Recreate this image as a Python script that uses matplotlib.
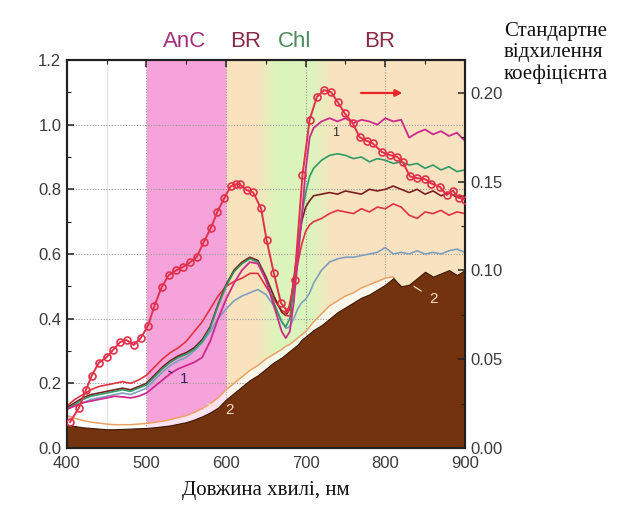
import numpy as np
import matplotlib
matplotlib.use("Agg")
import matplotlib.pyplot as plt
from matplotlib.patches import Polygon
from matplotlib.ticker import MultipleLocator, FormatStrFormatter

# wavelength grid, nm
wl = [400, 410, 420, 430, 440, 450, 460, 470, 480, 490, 500, 510, 520, 530, 540,
      550, 560, 570, 580, 590, 600, 610, 620, 630, 640, 650, 660, 670, 675, 680,
      685, 690, 695, 700, 705, 710, 720, 730, 740, 750, 760, 770, 780, 790, 800,
      810, 820, 830, 840, 850, 860, 870, 880, 890, 900]

# reflectance curves (left axis)
refl_magenta = [.12, .13, .14, .145, .15, .155, .16, .158, .155, .16, .17, .19, .21, .23, .245,
                .255, .265, .28, .33, .40, .46, .51, .55, .575, .57, .52, .44, .36, .34, .36,
                .45, .58, .71, .86, .96, .99, 1.01, 1.02, 1.01, 1.02, 1.005, 1.015, 1.01, 1.0, 1.02,
                1.01, 1.015, .96, .975, .985, .97, .98, .965, .975, .95]
refl_green = [.12, .135, .15, .16, .165, .17, .175, .18, .175, .185, .195, .22, .245, .265, .28,
              .29, .305, .33, .37, .44, .50, .545, .57, .585, .575, .52, .45, .39, .375, .40,
              .49, .61, .72, .79, .84, .865, .89, .905, .91, .905, .895, .90, .885, .895, .89,
              .88, .885, .875, .88, .865, .875, .86, .87, .855, .86]
refl_maroon = [.125, .14, .155, .165, .17, .175, .18, .185, .18, .19, .20, .225, .25, .27, .285,
               .295, .31, .335, .375, .445, .505, .55, .575, .59, .58, .53, .47, .42, .41, .43,
               .52, .62, .70, .745, .765, .78, .785, .79, .785, .795, .79, .785, .80, .795, .80,
               .81, .80, .79, .80, .785, .795, .78, .79, .775, .78]
refl_red = [.13, .15, .165, .18, .19, .195, .20, .205, .20, .21, .225, .25, .275, .295, .31,
            .33, .36, .39, .43, .47, .50, .515, .525, .54, .54, .50, .46, .425, .42, .44,
            .50, .57, .63, .67, .69, .70, .71, .725, .735, .73, .725, .74, .73, .745, .74,
            .755, .745, .72, .71, .73, .725, .735, .72, .73, .725]
refl_blue = [.12, .13, .14, .15, .155, .16, .165, .17, .165, .175, .185, .21, .235, .255, .27,
             .28, .30, .325, .36, .40, .43, .455, .47, .48, .49, .475, .44, .39, .37, .375,
             .40, .43, .45, .46, .48, .51, .55, .575, .585, .59, .59, .595, .60, .605, .62,
             .60, .605, .60, .61, .60, .605, .60, .61, .615, .605]
refl_orange = [.10, .092, .085, .08, .077, .074, .072, .072, .072, .074, .076, .079, .083, .088, .094,
               .10, .11, .122, .137, .155, .18, .20, .22, .24, .255, .275, .29, .305, .315, .32,
               .33, .34, .35, .36, .375, .39, .415, .44, .455, .47, .48, .495, .505, .515, .525,
               .53, .49, .49, .51, .53, .515, .525, .535, .52, .535]
refl_soil = [.07, .068, .064, .062, .06, .058, .058, .059, .06, .061, .062, .064, .067, .07, .075,
             .08, .088, .098, .11, .125, .15, .17, .19, .21, .225, .245, .265, .28, .29, .30,
             .31, .32, .335, .345, .355, .365, .38, .40, .42, .435, .45, .465, .475, .49, .505,
             .525, .50, .505, .525, .545, .53, .54, .55, .535, .55]

# standard deviation of the coefficient (right axis)
sd_wl = [404, 415, 424, 431, 440, 450, 458, 467, 475, 484, 493, 502, 510, 519, 528, 537,
         546, 555, 563, 572, 581, 589, 598, 606, 612, 617, 626, 634, 644, 651, 660, 669,
         678, 686, 696, 705, 714, 723, 732, 740, 749, 759, 768, 777, 784, 796, 806, 815,
         822, 831, 840, 850, 858, 869, 877, 885, 892, 900]
sd = [.0146, .0225, .0327, .0405, .0479, .0512, .0552, .0597, .0608, .058, .062, .069, .080,
      .0906, .0974, .100, .102, .1047, .1075, .116, .124, .133, .141, .1475, .1486, .1486,
      .1453, .144, .135, .117, .0985, .0816, .0766, .0946, .1537, .185, .1977, .2016, .2005,
      .195, .1886, .183, .175, .173, .1717, .1667, .165, .164, .161, .153, .152, .1515, .149,
      .147, .1425, .145, .141, .140]

band_labels = ["AnC", "BR", "Chl", "BR"]
band_label_x = [548, 624, 686, 793]
band_label_colors = ["#a3307a", "#8a2a45", "#4a8a5c", "#8a2a45"]

plt.rcParams["font.family"] = ["Liberation Sans", "DejaVu Sans"]

fig = plt.figure(figsize=(6.19, 5.05), dpi=100)
ax = fig.add_axes([0.108, 0.1129, 0.643, 0.7683])
ax2 = ax.twinx()

# background colour bands, light under the orange curve
gx = np.linspace(400, 900, 1001)
cx = [400, 499.9, 500, 599.9, 600, 635, 665, 705, 735, 900]
cr = [1, 1, .97, .97, .98, .98, .86, .86, .98, .98]
cg = [1, 1, .64, .64, .89, .89, .96, .96, .89, .89]
cb = [1, 1, .86, .86, .74, .74, .74, .74, .75, .75]
rgb = np.stack([np.interp(gx, cx, cr), np.interp(gx, cx, cg), np.interp(gx, cx, cb)], axis=-1)[None, :, :]
rgb_light = 1 - 0.3 * (1 - rgb)

up = Polygon(list(zip(wl, refl_orange)) + [(900, 1.2), (400, 1.2)], closed=True,
             transform=ax.transData, fc="none", ec="none")
down = Polygon(list(zip(wl, refl_orange)) + [(900, 0), (400, 0)], closed=True,
               transform=ax.transData, fc="none", ec="none")
ax.add_patch(up)
ax.add_patch(down)
im1 = ax.imshow(rgb, extent=[400, 900, 0, 1.2], aspect="auto", zorder=0, interpolation="bilinear")
im1.set_clip_path(up)
im2 = ax.imshow(rgb_light, extent=[400, 900, 0, 1.2], aspect="auto", zorder=0, interpolation="bilinear")
im2.set_clip_path(down)

ax.axvline(450, color="#e4e4e4", lw=1.0, zorder=0.5)
ax.grid(True, which="major", color="#9a9a9a", ls=(0, (1, 1.5)), lw=0.8)

ax.plot(wl, refl_orange, color="#e9a263", lw=1.1, zorder=2)
ax.fill_between(wl, 0, refl_soil, color="#74330f", ec="#3b1806", lw=0.8, zorder=2.6)

ax.plot(wl, refl_blue, color="#7f9fc0", lw=1.2, zorder=3)
ax.plot(wl, refl_red, color="#e2323f", lw=1.2, zorder=3)
ax.plot(wl, refl_maroon, color="#7a1e1e", lw=1.2, zorder=3)
ax.plot(wl, refl_green, color="#2f9a68", lw=1.2, zorder=3)
ax.plot(wl, refl_magenta, color="#cc2a8c", lw=1.3, zorder=3)

ax2.plot(sd_wl, sd, color="#e2304a", lw=1.4, marker="o", ms=5, mfc="none", mew=1.2, zorder=4)

# annotations
ax.annotate("1", xy=(528, 0.238), xytext=(547, 0.212), color="#3a2060", fontsize=11,
            ha="center", va="center", zorder=5,
            arrowprops=dict(arrowstyle="-", color="#3a2060", lw=0.9, shrinkB=0, shrinkA=4))
ax.text(737, 0.975, "1", color="#303030", fontsize=9, ha="center", va="center", zorder=5)
ax.annotate("2", xy=(577, 0.137), xytext=(604, 0.118), color="#f1dcc0", fontsize=11,
            ha="center", va="center", zorder=5,
            arrowprops=dict(arrowstyle="-", color="#f1dcc0", lw=0.9, shrinkB=0, shrinkA=4))
ax.annotate("2", xy=(836, 0.50), xytext=(860, 0.462), color="#f1dcc0", fontsize=11,
            ha="center", va="center", zorder=5,
            arrowprops=dict(arrowstyle="-", color="#f1dcc0", lw=0.9, shrinkB=0, shrinkA=4))
ax.annotate("", xy=(825, 1.098), xytext=(766, 1.098),
            arrowprops=dict(arrowstyle="-|>", color="#e8262a", lw=1.6, mutation_scale=10), zorder=5)

for lab, x, c in zip(band_labels, band_label_x, band_label_colors):
    ax.text(x, 1.047, lab, transform=ax.get_xaxis_transform(), color=c, fontsize=16,
            ha="center", va="center")

ax.set_xlim(400, 900)
ax.set_ylim(0, 1.2)
ax2.set_ylim(0, 0.2186)
ax.xaxis.set_major_locator(MultipleLocator(100))
ax.xaxis.set_minor_locator(MultipleLocator(50))
ax.yaxis.set_major_locator(MultipleLocator(0.2))
ax.yaxis.set_minor_locator(MultipleLocator(0.1))
ax.yaxis.set_major_formatter(FormatStrFormatter("%.1f"))
ax2.yaxis.set_major_locator(MultipleLocator(0.05))
ax2.yaxis.set_minor_locator(MultipleLocator(0.025))
ax2.yaxis.set_major_formatter(FormatStrFormatter("%.2f"))

ax.tick_params(which="both", direction="in", top=True, right=False, labelsize=12,
               labelcolor="#3a3a3a", color="#202020")
ax.tick_params(axis="x", which="major", pad=6)
ax.tick_params(axis="y", which="major", pad=4)
ax.tick_params(which="major", length=5, width=1.1)
ax.tick_params(which="minor", length=3, width=0.8)
ax2.tick_params(which="both", direction="in", labelsize=12, labelcolor="#3a3a3a", color="#202020")
ax2.tick_params(which="major", length=5, width=1.1, pad=4)
ax2.tick_params(which="minor", length=3, width=0.8)
for a in (ax, ax2):
    for s in a.spines.values():
        s.set_linewidth(1.5)
        s.set_color("#202020")

fig.text(0.814, 1 - 22 / 505, "Стандартне\nвідхилення\nкоефіцієнта", ha="left", va="top",
         family=["Liberation Serif", "DejaVu Serif"], fontsize=15, linespacing=1.15, color="#111111")
fig.text(0.43, 1 - 490 / 505, "Довжина хвилі, нм", ha="center", va="center",
         family=["Liberation Serif", "DejaVu Serif"], fontsize=15, color="#111111")

fig.savefig("out.png", dpi=100)
